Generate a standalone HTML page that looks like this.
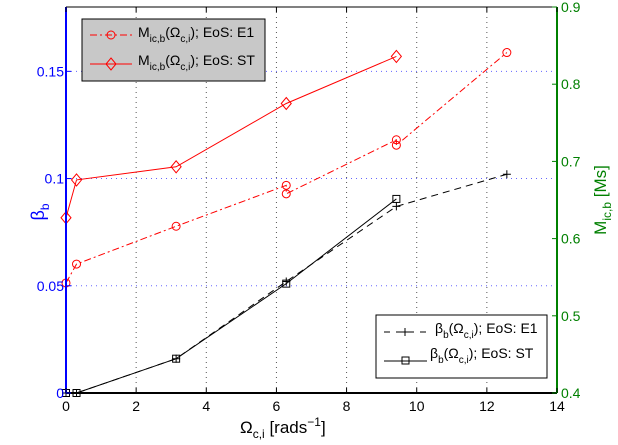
<!DOCTYPE html>
<html><head><meta charset="utf-8"><style>
html,body{margin:0;padding:0;background:#fff;}
svg{display:block;font-family:"Liberation Sans",sans-serif;}
</style></head><body>
<svg id="chart" width="618" height="445" viewBox="0 0 618 445">
<g id="grid"></g>
<g id="series"></g>
<g id="axes"></g>
<g id="legend1">
<rect x="82" y="19" width="183" height="62" fill="#c8c8c8" stroke="#000" stroke-width="1"/>
<line x1="90" y1="35" x2="132" y2="35" stroke="red" stroke-dasharray="7,3,2,3"/>
<circle cx="111" cy="35" r="4" fill="none" stroke="red"/>
<text x="138" y="37" font-size="14">M<tspan font-size="10" dy="5">ic,b</tspan><tspan dy="-5">(Ω</tspan><tspan font-size="10" dy="5">c,i</tspan><tspan dy="-5">); EoS: E1</tspan></text>
<line x1="90" y1="64" x2="132" y2="64" stroke="red"/>
<path d="M111,58 L116,64 L111,70 L106,64 Z" fill="none" stroke="red"/>
<text x="138" y="65" font-size="14">M<tspan font-size="10" dy="5">ic,b</tspan><tspan dy="-5">(Ω</tspan><tspan font-size="10" dy="5">c,i</tspan><tspan dy="-5">); EoS: ST</tspan></text>
</g>
<g id="legend2">
<rect x="376" y="315" width="171" height="63" fill="#fff" stroke="#000" stroke-width="1"/>
<line x1="384" y1="332" x2="428" y2="332" stroke="#000" stroke-dasharray="6,6"/>
<path d="M401,332h8M405,328v8" stroke="#000"/>
<text x="435" y="333" font-size="14">β<tspan font-size="10" dy="5">b</tspan><tspan dy="-5">(Ω</tspan><tspan font-size="10" dy="5">c,i</tspan><tspan dy="-5">); EoS: E1</tspan></text>
<line x1="384" y1="361" x2="427" y2="361" stroke="#000"/>
<rect x="402" y="357" width="7" height="7" fill="none" stroke="#000"/>
<text x="430" y="358" font-size="14">β<tspan font-size="10" dy="5">b</tspan><tspan dy="-5">(Ω</tspan><tspan font-size="10" dy="5">c,i</tspan><tspan dy="-5">); EoS: ST</tspan></text>
</g>
<script>
const xE1=[0,0.3,3.14,6.28,6.28,9.42,9.42,12.57];
const mE1=[0.5425,0.567,0.616,0.669,0.658,0.728,0.721,0.841];
const xST=[0,0.3,3.14,6.28,9.42];
const mST=[0.627,0.676,0.693,0.775,0.836];
const xbE1=[0,0.3,3.14,6.28,9.42,12.57];
const bE1=[0,0,0.016,0.052,0.087,0.102];
const xbST=[0,0.3,3.14,6.28,9.42];
const bST=[0,0,0.016,0.051,0.0905];
const xTicks=[0,2,4,6,8,10,12,14];
const yTicks=[0,0.05,0.1,0.15];
const y2Ticks=[0.4,0.5,0.6,0.7,0.8,0.9];
const L=66,R=557,T=7,B=393;
const X=v=>L+(v/14)*(R-L);
const Y=v=>B-(v/0.18)*(B-T);
const Y2=v=>B-((v-0.4)/0.5)*(B-T);
const NS="http://www.w3.org/2000/svg";
function mk(tag,attrs,parent){const e=document.createElementNS(NS,tag);for(const k in attrs)e.setAttribute(k,attrs[k]);parent.appendChild(e);return e;}
const grid=document.getElementById('grid'),ser=document.getElementById('series'),ax=document.getElementById('axes');
xTicks.forEach(t=>{if(t>0&&t<14){const l=mk('line',{x1:X(t),x2:X(t),y1:T,y2:B,stroke:'#555','stroke-dasharray':'1,4'},grid);

}});
yTicks.forEach(t=>{if(t>0){const l=mk('line',{x1:L,x2:R,y1:Y(t),y2:Y(t),stroke:'#66f','stroke-dasharray':'1,4'},grid);

}});
function line(xs,ys,f,color,dash,name){const p=mk('polyline',{points:xs.map((x,i)=>X(x)+','+f(ys[i])).join(' '),fill:'none',stroke:color,'stroke-dasharray':dash},ser);

}
line(xE1,mE1,Y2,'red','7,3,2,3','mass-e1-line');
line(xST,mST,Y2,'red','','mass-st-line');
line(xbE1,bE1,Y,'#000','7,5','beta-e1-line');
line(xbST,bST,Y,'#000','','beta-st-line');
xE1.forEach((x,i)=>{const c=mk('circle',{cx:X(x),cy:Y2(mE1[i]),r:4,fill:'none',stroke:'red'},ser);

});
xST.forEach((x,i)=>{const cx=X(x),cy=Y2(mST[i]);const d=mk('path',{d:`M${cx},${cy-6}L${cx+5},${cy}L${cx},${cy+6}L${cx-5},${cy}Z`,fill:'none',stroke:'red'},ser);

});
xbE1.forEach((x,i)=>{const cx=X(x),cy=Y(bE1[i]);const d=mk('path',{d:`M${cx-4},${cy}h8M${cx},${cy-4}v8`,stroke:'#000'},ser);

});
xbST.forEach((x,i)=>{const r=mk('rect',{x:X(x)-3.5,y:Y(bST[i])-3.5,width:7,height:7,fill:'none',stroke:'#000'},ser);

});
mk('line',{x1:L,x2:R,y1:T,y2:T,stroke:'#000'},ax);
mk('line',{x1:L,x2:R,y1:B,y2:B,stroke:'#000','stroke-width':2},ax);
mk('line',{x1:L,x2:L,y1:T,y2:B,stroke:'#00f','stroke-width':2},ax);
mk('line',{x1:R,x2:R,y1:T,y2:B,stroke:'#008000','stroke-width':2},ax);
xTicks.forEach(t=>{mk('line',{x1:X(t),x2:X(t),y1:B,y2:B-5,stroke:'#000'},ax);mk('line',{x1:X(t),x2:X(t),y1:T,y2:T+5,stroke:'#000'},ax);
const s=mk('text',{x:X(t),y:B+18,'font-size':14,'text-anchor':'middle'},ax);s.textContent=t;

});
yTicks.forEach(t=>{mk('line',{x1:L,x2:L+5,y1:Y(t),y2:Y(t),stroke:'#00f'},ax);
const s=mk('text',{x:L-2,y:Y(t)+5,'font-size':14,'text-anchor':'end',fill:'#00f'},ax);s.textContent=t;

});
y2Ticks.forEach(t=>{mk('line',{x1:R,x2:R-5,y1:Y2(t),y2:Y2(t),stroke:'#008000'},ax);
const s=mk('text',{x:R+4,y:Y2(t)+5,'font-size':14,fill:'#008000'},ax);s.textContent=t.toFixed(1);

});
</script>
<text x="240" y="433" font-size="17">Ω<tspan font-size="12" dy="5">c,i</tspan><tspan dy="-5"> [rads</tspan><tspan font-size="12" dy="-7">−1</tspan><tspan dy="7">]</tspan></text>
<text transform="translate(44,212) rotate(-90)" font-size="18" fill="#00f" text-anchor="middle">β<tspan font-size="12" dy="5">b</tspan></text>
<text transform="translate(606,200) rotate(-90)" font-size="17" fill="#008000" text-anchor="middle">M<tspan font-size="12" dy="5">ic,b</tspan><tspan dy="-5"> [Ms]</tspan></text>
</svg>
</body></html>
